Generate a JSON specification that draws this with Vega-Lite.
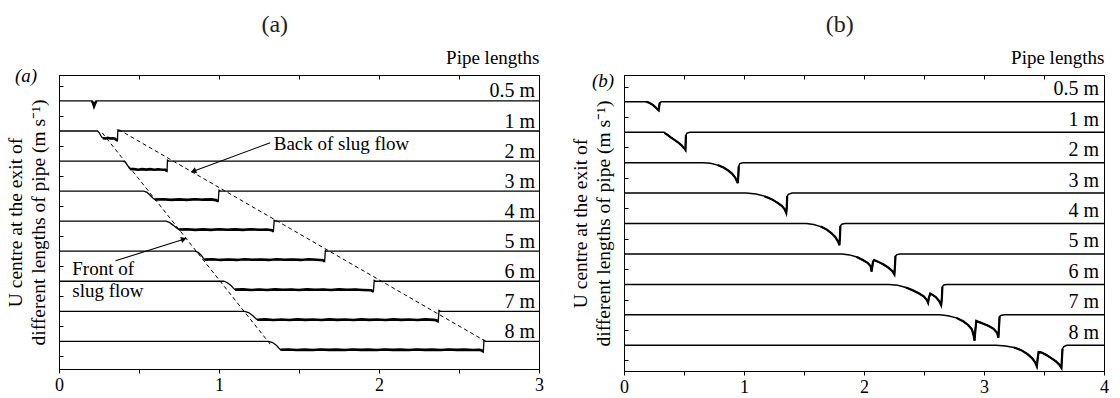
{
"$schema":"https://vega.github.io/schema/vega-lite/v6.json",
"padding":{"left":5,"top":12,"right":5,"bottom":5},
"spacing":26,
"config":{
 "font":"Liberation Serif",
 "view":{"stroke":"black","strokeWidth":1},
 "axis":{"domainColor":"black","tickColor":"black","labelColor":"black","titleColor":"black","grid":false,"labelFont":"Liberation Serif","titleFont":"Liberation Serif","titleFontWeight":"normal","domainWidth":1,"tickWidth":1},
 "title":{"font":"Liberation Serif","fontWeight":"normal","fontSize":24,"color":"#222222","anchor":"middle","frame":"bounds","offset":12},
 "text":{"font":"Liberation Serif","color":"black"}
},
"datasets":{
"a":[
{"p":"0.5 m","t":0,"u":9},{"p":"0.5 m","t":0.205,"u":9,"s":"slug"},{"p":"0.5 m","t":0.213,"u":8.93,"s":"slug"},{"p":"0.5 m","t":0.219,"u":8.83,"s":"slug"},{"p":"0.5 m","t":0.225,"u":8.91,"s":"slug"},{"p":"0.5 m","t":0.233,"u":9,"s":"slug"},{"p":"0.5 m","t":3,"u":9},
{"p":"1 m","t":0,"u":8},{"p":"1 m","t":0.24,"u":8},{"p":"1 m","t":0.25,"u":7.95},{"p":"1 m","t":0.26,"u":7.86},{"p":"1 m","t":0.268,"u":7.79},
{"p":"1 m","t":0.275,"u":7.76,"s":"slug"},{"p":"1 m","t":0.29,"u":7.75,"s":"slug"},{"p":"1 m","t":0.305,"u":7.77,"s":"slug"},{"p":"1 m","t":0.32,"u":7.75,"s":"slug"},{"p":"1 m","t":0.335,"u":7.76,"s":"slug"},{"p":"1 m","t":0.35,"u":7.74,"s":"slug"},{"p":"1 m","t":0.358,"u":7.71,"s":"slug"},{"p":"1 m","t":0.365,"u":7.68,"s":"slug"},
{"p":"1 m","t":0.368,"u":8.03},{"p":"1 m","t":0.376,"u":8},{"p":"1 m","t":3,"u":8},
{"p":"2 m","t":0,"u":7},{"p":"2 m","t":0.4,"u":7},{"p":"2 m","t":0.415,"u":6.96},{"p":"2 m","t":0.428,"u":6.86},{"p":"2 m","t":0.438,"u":6.77},
{"p":"2 m","t":0.445,"u":6.73,"s":"slug"},{"p":"2 m","t":0.47,"u":6.73,"s":"slug"},{"p":"2 m","t":0.495,"u":6.71,"s":"slug"},{"p":"2 m","t":0.52,"u":6.73,"s":"slug"},{"p":"2 m","t":0.545,"u":6.715,"s":"slug"},{"p":"2 m","t":0.57,"u":6.73,"s":"slug"},{"p":"2 m","t":0.595,"u":6.71,"s":"slug"},{"p":"2 m","t":0.62,"u":6.725,"s":"slug"},{"p":"2 m","t":0.645,"u":6.71,"s":"slug"},{"p":"2 m","t":0.665,"u":6.71,"s":"slug"},{"p":"2 m","t":0.675,"u":6.66,"s":"slug"},
{"p":"2 m","t":0.678,"u":7.03},{"p":"2 m","t":0.686,"u":7},{"p":"2 m","t":3,"u":7},
{"p":"3 m","t":0,"u":6},{"p":"3 m","t":0.53,"u":6},{"p":"3 m","t":0.55,"u":5.96},{"p":"3 m","t":0.57,"u":5.86},{"p":"3 m","t":0.588,"u":5.76},
{"p":"3 m","t":0.6,"u":5.72,"s":"slug"},{"p":"3 m","t":0.65,"u":5.73,"s":"slug"},{"p":"3 m","t":0.7,"u":5.71,"s":"slug"},{"p":"3 m","t":0.75,"u":5.725,"s":"slug"},{"p":"3 m","t":0.8,"u":5.71,"s":"slug"},{"p":"3 m","t":0.85,"u":5.73,"s":"slug"},{"p":"3 m","t":0.9,"u":5.715,"s":"slug"},{"p":"3 m","t":0.95,"u":5.725,"s":"slug"},{"p":"3 m","t":0.98,"u":5.7,"s":"slug"},{"p":"3 m","t":0.995,"u":5.66,"s":"slug"},
{"p":"3 m","t":1.0,"u":6.03},{"p":"3 m","t":1.01,"u":6},{"p":"3 m","t":3,"u":6},
{"p":"4 m","t":0,"u":5},{"p":"4 m","t":0.67,"u":5},{"p":"4 m","t":0.69,"u":4.96},{"p":"4 m","t":0.715,"u":4.86},{"p":"4 m","t":0.735,"u":4.77},
{"p":"4 m","t":0.75,"u":4.72,"s":"slug"},{"p":"4 m","t":0.8,"u":4.73,"s":"slug"},{"p":"4 m","t":0.85,"u":4.71,"s":"slug"},{"p":"4 m","t":0.9,"u":4.725,"s":"slug"},{"p":"4 m","t":0.95,"u":4.71,"s":"slug"},{"p":"4 m","t":1.0,"u":4.73,"s":"slug"},{"p":"4 m","t":1.05,"u":4.715,"s":"slug"},{"p":"4 m","t":1.1,"u":4.725,"s":"slug"},{"p":"4 m","t":1.15,"u":4.71,"s":"slug"},{"p":"4 m","t":1.2,"u":4.73,"s":"slug"},{"p":"4 m","t":1.25,"u":4.715,"s":"slug"},{"p":"4 m","t":1.3,"u":4.72,"s":"slug"},{"p":"4 m","t":1.33,"u":4.7,"s":"slug"},{"p":"4 m","t":1.34,"u":4.66,"s":"slug"},
{"p":"4 m","t":1.345,"u":5.03},{"p":"4 m","t":1.355,"u":5},{"p":"4 m","t":3,"u":5},
{"p":"5 m","t":0,"u":4},{"p":"5 m","t":0.85,"u":4},{"p":"5 m","t":0.87,"u":3.96},{"p":"5 m","t":0.89,"u":3.86},{"p":"5 m","t":0.902,"u":3.77},
{"p":"5 m","t":0.91,"u":3.72,"s":"slug"},{"p":"5 m","t":0.96,"u":3.73,"s":"slug"},{"p":"5 m","t":1.01,"u":3.71,"s":"slug"},{"p":"5 m","t":1.06,"u":3.725,"s":"slug"},{"p":"5 m","t":1.11,"u":3.71,"s":"slug"},{"p":"5 m","t":1.16,"u":3.73,"s":"slug"},{"p":"5 m","t":1.21,"u":3.715,"s":"slug"},{"p":"5 m","t":1.26,"u":3.725,"s":"slug"},{"p":"5 m","t":1.31,"u":3.71,"s":"slug"},{"p":"5 m","t":1.36,"u":3.73,"s":"slug"},{"p":"5 m","t":1.41,"u":3.715,"s":"slug"},{"p":"5 m","t":1.46,"u":3.725,"s":"slug"},{"p":"5 m","t":1.51,"u":3.71,"s":"slug"},{"p":"5 m","t":1.56,"u":3.73,"s":"slug"},{"p":"5 m","t":1.61,"u":3.715,"s":"slug"},{"p":"5 m","t":1.65,"u":3.7,"s":"slug"},{"p":"5 m","t":1.66,"u":3.66,"s":"slug"},
{"p":"5 m","t":1.665,"u":4.03},{"p":"5 m","t":1.675,"u":4},{"p":"5 m","t":3,"u":4},
{"p":"6 m","t":0,"u":3},{"p":"6 m","t":1.03,"u":3},{"p":"6 m","t":1.05,"u":2.96},{"p":"6 m","t":1.075,"u":2.86},{"p":"6 m","t":1.09,"u":2.77},
{"p":"6 m","t":1.1,"u":2.72,"s":"slug"},{"p":"6 m","t":1.15,"u":2.73,"s":"slug"},{"p":"6 m","t":1.2,"u":2.71,"s":"slug"},{"p":"6 m","t":1.25,"u":2.725,"s":"slug"},{"p":"6 m","t":1.3,"u":2.71,"s":"slug"},{"p":"6 m","t":1.35,"u":2.73,"s":"slug"},{"p":"6 m","t":1.4,"u":2.715,"s":"slug"},{"p":"6 m","t":1.45,"u":2.725,"s":"slug"},{"p":"6 m","t":1.5,"u":2.71,"s":"slug"},{"p":"6 m","t":1.55,"u":2.73,"s":"slug"},{"p":"6 m","t":1.6,"u":2.715,"s":"slug"},{"p":"6 m","t":1.65,"u":2.725,"s":"slug"},{"p":"6 m","t":1.7,"u":2.71,"s":"slug"},{"p":"6 m","t":1.75,"u":2.73,"s":"slug"},{"p":"6 m","t":1.8,"u":2.715,"s":"slug"},{"p":"6 m","t":1.85,"u":2.725,"s":"slug"},{"p":"6 m","t":1.9,"u":2.71,"s":"slug"},{"p":"6 m","t":1.95,"u":2.7,"s":"slug"},{"p":"6 m","t":1.965,"u":2.66,"s":"slug"},
{"p":"6 m","t":1.97,"u":3.03},{"p":"6 m","t":1.98,"u":3},{"p":"6 m","t":3,"u":3},
{"p":"7 m","t":0,"u":2},{"p":"7 m","t":1.16,"u":2},{"p":"7 m","t":1.185,"u":1.96},{"p":"7 m","t":1.21,"u":1.86},{"p":"7 m","t":1.228,"u":1.77},
{"p":"7 m","t":1.24,"u":1.72,"s":"slug"},{"p":"7 m","t":1.29,"u":1.73,"s":"slug"},{"p":"7 m","t":1.34,"u":1.71,"s":"slug"},{"p":"7 m","t":1.39,"u":1.725,"s":"slug"},{"p":"7 m","t":1.44,"u":1.71,"s":"slug"},{"p":"7 m","t":1.49,"u":1.73,"s":"slug"},{"p":"7 m","t":1.54,"u":1.715,"s":"slug"},{"p":"7 m","t":1.59,"u":1.725,"s":"slug"},{"p":"7 m","t":1.64,"u":1.71,"s":"slug"},{"p":"7 m","t":1.69,"u":1.73,"s":"slug"},{"p":"7 m","t":1.74,"u":1.715,"s":"slug"},{"p":"7 m","t":1.79,"u":1.725,"s":"slug"},{"p":"7 m","t":1.84,"u":1.71,"s":"slug"},{"p":"7 m","t":1.89,"u":1.73,"s":"slug"},{"p":"7 m","t":1.94,"u":1.715,"s":"slug"},{"p":"7 m","t":1.99,"u":1.725,"s":"slug"},{"p":"7 m","t":2.04,"u":1.71,"s":"slug"},{"p":"7 m","t":2.09,"u":1.73,"s":"slug"},{"p":"7 m","t":2.14,"u":1.715,"s":"slug"},{"p":"7 m","t":2.19,"u":1.725,"s":"slug"},{"p":"7 m","t":2.24,"u":1.71,"s":"slug"},{"p":"7 m","t":2.29,"u":1.73,"s":"slug"},{"p":"7 m","t":2.34,"u":1.715,"s":"slug"},{"p":"7 m","t":2.36,"u":1.7,"s":"slug"},{"p":"7 m","t":2.37,"u":1.65,"s":"slug"},
{"p":"7 m","t":2.375,"u":2.03},{"p":"7 m","t":2.385,"u":2},{"p":"7 m","t":3,"u":2},
{"p":"8 m","t":0,"u":1},{"p":"8 m","t":1.31,"u":1},{"p":"8 m","t":1.335,"u":0.96},{"p":"8 m","t":1.36,"u":0.86},{"p":"8 m","t":1.375,"u":0.77},
{"p":"8 m","t":1.385,"u":0.72,"s":"slug"},{"p":"8 m","t":1.435,"u":0.73,"s":"slug"},{"p":"8 m","t":1.485,"u":0.71,"s":"slug"},{"p":"8 m","t":1.535,"u":0.725,"s":"slug"},{"p":"8 m","t":1.585,"u":0.71,"s":"slug"},{"p":"8 m","t":1.635,"u":0.73,"s":"slug"},{"p":"8 m","t":1.685,"u":0.715,"s":"slug"},{"p":"8 m","t":1.735,"u":0.725,"s":"slug"},{"p":"8 m","t":1.785,"u":0.71,"s":"slug"},{"p":"8 m","t":1.835,"u":0.73,"s":"slug"},{"p":"8 m","t":1.885,"u":0.715,"s":"slug"},{"p":"8 m","t":1.935,"u":0.725,"s":"slug"},{"p":"8 m","t":1.985,"u":0.71,"s":"slug"},{"p":"8 m","t":2.035,"u":0.73,"s":"slug"},{"p":"8 m","t":2.085,"u":0.715,"s":"slug"},{"p":"8 m","t":2.135,"u":0.725,"s":"slug"},{"p":"8 m","t":2.185,"u":0.71,"s":"slug"},{"p":"8 m","t":2.235,"u":0.73,"s":"slug"},{"p":"8 m","t":2.285,"u":0.715,"s":"slug"},{"p":"8 m","t":2.335,"u":0.725,"s":"slug"},{"p":"8 m","t":2.385,"u":0.71,"s":"slug"},{"p":"8 m","t":2.435,"u":0.73,"s":"slug"},{"p":"8 m","t":2.485,"u":0.715,"s":"slug"},{"p":"8 m","t":2.535,"u":0.725,"s":"slug"},{"p":"8 m","t":2.585,"u":0.71,"s":"slug"},{"p":"8 m","t":2.63,"u":0.72,"s":"slug"},{"p":"8 m","t":2.645,"u":0.69,"s":"slug"},{"p":"8 m","t":2.652,"u":0.65,"s":"slug"},
{"p":"8 m","t":2.656,"u":1.04},{"p":"8 m","t":2.666,"u":1},{"p":"8 m","t":3,"u":1}
],
"b":[
{"p":"0.5 m","t":0,"u":9},{"p":"0.5 m","t":0.18,"u":9},{"p":"0.5 m","t":0.185,"u":9,"s":"slug"},{"p":"0.5 m","t":0.21,"u":8.97,"s":"slug"},{"p":"0.5 m","t":0.24,"u":8.9,"s":"slug"},{"p":"0.5 m","t":0.265,"u":8.81,"s":"slug"},{"p":"0.5 m","t":0.28,"u":8.75,"s":"slug"},{"p":"0.5 m","t":0.289,"u":8.72,"s":"slug"},{"p":"0.5 m","t":0.293,"u":8.85,"s":"slug"},{"p":"0.5 m","t":0.298,"u":8.97,"s":"slug"},{"p":"0.5 m","t":0.31,"u":9},{"p":"0.5 m","t":4,"u":9},
{"p":"1 m","t":0,"u":8},{"p":"1 m","t":0.334,"u":8},{"p":"1 m","t":0.34,"u":7.97,"s":"slug"},{"p":"1 m","t":0.36,"u":7.92,"s":"slug"},{"p":"1 m","t":0.39,"u":7.83,"s":"slug"},{"p":"1 m","t":0.42,"u":7.75,"s":"slug"},{"p":"1 m","t":0.45,"u":7.67,"s":"slug"},{"p":"1 m","t":0.48,"u":7.57,"s":"slug"},{"p":"1 m","t":0.495,"u":7.5,"s":"slug"},{"p":"1 m","t":0.505,"u":7.46,"s":"slug"},{"p":"1 m","t":0.512,"u":7.42,"s":"slug"},{"p":"1 m","t":0.516,"u":7.9,"s":"slug"},{"p":"1 m","t":0.525,"u":7.97},{"p":"1 m","t":0.55,"u":8},{"p":"1 m","t":4,"u":8},
{"p":"2 m","t":0,"u":7},{"p":"2 m","t":0.66,"u":7},{"p":"2 m","t":0.72,"u":6.98},{"p":"2 m","t":0.78,"u":6.92,"s":"slug"},{"p":"2 m","t":0.83,"u":6.84,"s":"slug"},{"p":"2 m","t":0.87,"u":6.74,"s":"slug"},{"p":"2 m","t":0.9,"u":6.64,"s":"slug"},{"p":"2 m","t":0.925,"u":6.52,"s":"slug"},{"p":"2 m","t":0.94,"u":6.4,"s":"slug"},{"p":"2 m","t":0.948,"u":6.33,"s":"slug"},{"p":"2 m","t":0.953,"u":6.6,"s":"slug"},{"p":"2 m","t":0.956,"u":6.88,"s":"slug"},{"p":"2 m","t":0.965,"u":6.97},{"p":"2 m","t":0.99,"u":7},{"p":"2 m","t":4,"u":7},
{"p":"3 m","t":0,"u":6},{"p":"3 m","t":1.02,"u":6},{"p":"3 m","t":1.1,"u":5.97},{"p":"3 m","t":1.17,"u":5.9,"s":"slug"},{"p":"3 m","t":1.23,"u":5.8,"s":"slug"},{"p":"3 m","t":1.28,"u":5.68,"s":"slug"},{"p":"3 m","t":1.315,"u":5.58,"s":"slug"},{"p":"3 m","t":1.34,"u":5.46,"s":"slug"},{"p":"3 m","t":1.352,"u":5.35,"s":"slug"},{"p":"3 m","t":1.356,"u":5.5,"s":"slug"},{"p":"3 m","t":1.36,"u":5.9,"s":"slug"},{"p":"3 m","t":1.37,"u":5.96},{"p":"3 m","t":1.4,"u":6},{"p":"3 m","t":4,"u":6},
{"p":"4 m","t":0,"u":5},{"p":"4 m","t":1.52,"u":5},{"p":"4 m","t":1.58,"u":4.97},{"p":"4 m","t":1.64,"u":4.9,"s":"slug"},{"p":"4 m","t":1.69,"u":4.8,"s":"slug"},{"p":"4 m","t":1.73,"u":4.68,"s":"slug"},{"p":"4 m","t":1.76,"u":4.56,"s":"slug"},{"p":"4 m","t":1.785,"u":4.4,"s":"slug"},{"p":"4 m","t":1.795,"u":4.29,"s":"slug"},{"p":"4 m","t":1.8,"u":4.6,"s":"slug"},{"p":"4 m","t":1.803,"u":4.92,"s":"slug"},{"p":"4 m","t":1.815,"u":4.98},{"p":"4 m","t":1.84,"u":5},{"p":"4 m","t":4,"u":5},
{"p":"5 m","t":0,"u":4},{"p":"5 m","t":1.82,"u":4},{"p":"5 m","t":1.88,"u":3.97},{"p":"5 m","t":1.94,"u":3.9,"s":"slug"},{"p":"5 m","t":1.99,"u":3.8,"s":"slug"},{"p":"5 m","t":2.03,"u":3.71,"s":"slug"},{"p":"5 m","t":2.055,"u":3.6,"s":"slug"},{"p":"5 m","t":2.063,"u":3.42,"s":"slug"},{"p":"5 m","t":2.068,"u":3.55,"s":"slug"},{"p":"5 m","t":2.075,"u":3.75,"s":"slug"},{"p":"5 m","t":2.085,"u":3.8,"s":"slug"},{"p":"5 m","t":2.12,"u":3.74,"s":"slug"},{"p":"5 m","t":2.16,"u":3.66,"s":"slug"},{"p":"5 m","t":2.2,"u":3.56,"s":"slug"},{"p":"5 m","t":2.235,"u":3.44,"s":"slug"},{"p":"5 m","t":2.253,"u":3.33,"s":"slug"},{"p":"5 m","t":2.258,"u":3.6,"s":"slug"},{"p":"5 m","t":2.262,"u":3.93,"s":"slug"},{"p":"5 m","t":2.275,"u":3.98},{"p":"5 m","t":2.3,"u":4},{"p":"5 m","t":4,"u":4},
{"p":"6 m","t":0,"u":3},{"p":"6 m","t":2.21,"u":3},{"p":"6 m","t":2.28,"u":2.97},{"p":"6 m","t":2.35,"u":2.9,"s":"slug"},{"p":"6 m","t":2.41,"u":2.8,"s":"slug"},{"p":"6 m","t":2.46,"u":2.7,"s":"slug"},{"p":"6 m","t":2.5,"u":2.6,"s":"slug"},{"p":"6 m","t":2.525,"u":2.48,"s":"slug"},{"p":"6 m","t":2.534,"u":2.4,"s":"slug"},{"p":"6 m","t":2.54,"u":2.55,"s":"slug"},{"p":"6 m","t":2.552,"u":2.7,"s":"slug"},{"p":"6 m","t":2.575,"u":2.65,"s":"slug"},{"p":"6 m","t":2.6,"u":2.58,"s":"slug"},{"p":"6 m","t":2.625,"u":2.46,"s":"slug"},{"p":"6 m","t":2.643,"u":2.32,"s":"slug"},{"p":"6 m","t":2.649,"u":2.55,"s":"slug"},{"p":"6 m","t":2.653,"u":2.92,"s":"slug"},{"p":"6 m","t":2.665,"u":2.98},{"p":"6 m","t":2.69,"u":3},{"p":"6 m","t":4,"u":3},
{"p":"7 m","t":0,"u":2},{"p":"7 m","t":2.63,"u":2},{"p":"7 m","t":2.7,"u":1.97},{"p":"7 m","t":2.77,"u":1.9,"s":"slug"},{"p":"7 m","t":2.83,"u":1.78,"s":"slug"},{"p":"7 m","t":2.87,"u":1.66,"s":"slug"},{"p":"7 m","t":2.9,"u":1.52,"s":"slug"},{"p":"7 m","t":2.915,"u":1.3,"s":"slug"},{"p":"7 m","t":2.921,"u":1.15,"s":"slug"},{"p":"7 m","t":2.928,"u":1.5,"s":"slug"},{"p":"7 m","t":2.936,"u":1.8,"s":"slug"},{"p":"7 m","t":2.96,"u":1.76,"s":"slug"},{"p":"7 m","t":3.0,"u":1.7,"s":"slug"},{"p":"7 m","t":3.04,"u":1.63,"s":"slug"},{"p":"7 m","t":3.08,"u":1.54,"s":"slug"},{"p":"7 m","t":3.11,"u":1.4,"s":"slug"},{"p":"7 m","t":3.12,"u":1.25,"s":"slug"},{"p":"7 m","t":3.125,"u":1.6,"s":"slug"},{"p":"7 m","t":3.13,"u":1.94,"s":"slug"},{"p":"7 m","t":3.14,"u":1.98},{"p":"7 m","t":3.17,"u":2},{"p":"7 m","t":4,"u":2},
{"p":"8 m","t":0,"u":1},{"p":"8 m","t":3.1,"u":1},{"p":"8 m","t":3.18,"u":0.98},{"p":"8 m","t":3.25,"u":0.93,"s":"slug"},{"p":"8 m","t":3.31,"u":0.84,"s":"slug"},{"p":"8 m","t":3.36,"u":0.72,"s":"slug"},{"p":"8 m","t":3.4,"u":0.58,"s":"slug"},{"p":"8 m","t":3.425,"u":0.45,"s":"slug"},{"p":"8 m","t":3.44,"u":0.31,"s":"slug"},{"p":"8 m","t":3.447,"u":0.55,"s":"slug"},{"p":"8 m","t":3.455,"u":0.78,"s":"slug"},{"p":"8 m","t":3.48,"u":0.76,"s":"slug"},{"p":"8 m","t":3.52,"u":0.68,"s":"slug"},{"p":"8 m","t":3.56,"u":0.58,"s":"slug"},{"p":"8 m","t":3.6,"u":0.47,"s":"slug"},{"p":"8 m","t":3.628,"u":0.36,"s":"slug"},{"p":"8 m","t":3.645,"u":0.26,"s":"slug"},{"p":"8 m","t":3.65,"u":0.6,"s":"slug"},{"p":"8 m","t":3.654,"u":0.88,"s":"slug"},{"p":"8 m","t":3.665,"u":0.96},{"p":"8 m","t":3.69,"u":1},{"p":"8 m","t":4,"u":1}
],
"labA":[{"lab":"0.5 m","t":3,"u":9},{"lab":"1 m","t":3,"u":8},{"lab":"2 m","t":3,"u":7},{"lab":"3 m","t":3,"u":6},{"lab":"4 m","t":3,"u":5},{"lab":"5 m","t":3,"u":4},{"lab":"6 m","t":3,"u":3},{"lab":"7 m","t":3,"u":2},{"lab":"8 m","t":3,"u":1}],
"labB":[{"lab":"0.5 m","t":4,"u":9},{"lab":"1 m","t":4,"u":8},{"lab":"2 m","t":4,"u":7},{"lab":"3 m","t":4,"u":6},{"lab":"4 m","t":4,"u":5},{"lab":"5 m","t":4,"u":4},{"lab":"6 m","t":4,"u":3},{"lab":"7 m","t":4,"u":2},{"lab":"8 m","t":4,"u":1}],
"dash":[{"name":"front","t":0.27,"u":7.94,"t2":1.32,"u2":0.905},{"name":"back","t":0.372,"u":8.05,"t2":2.657,"u2":1.03}],
"arrows":[{"name":"back","t":1.32,"u":7.61,"t2":0.84,"u2":6.66},{"name":"front","t":0.353,"u":3.68,"t2":0.78,"u2":4.4}],
"notes":[{"txt":"Back of slug flow","t":1.342,"u":7.57},{"txt":"Front of","t":0.083,"u":3.4},{"txt":"slug flow","t":0.083,"u":2.66}]
},
"hconcat":[
{
 "width":480,"height":294,
 "title":{"text":"(a)"},
 "resolve":{"axis":{"x":"independent","y":"independent"}},
 "layer":[
  {"data":{"name":"a"},"mark":{"type":"line","color":"black","strokeWidth":1.3},
   "encoding":{
    "x":{"field":"t","type":"quantitative","scale":{"domain":[0,3],"nice":false,"zero":false},"axis":{"orient":"bottom","title":null,"values":[0,0.5,1,1.5,2,2.5,3],"format":".0f","labelExpr":"datum.value % 1 === 0 ? datum.label : ''","tickSize":4,"labelFontSize":18,"labelPadding":3,"labelFlush":false}},
    "y":{"field":"u","type":"quantitative","scale":{"domain":[0.08,9.864],"nice":false,"zero":false},"axis":{"orient":"left","title":["U centre at the exit of","different lengths of pipe (m s⁻¹)"],"titleFontSize":19.5,"titleLineHeight":22.6,"titlePadding":10,"labels":false,"values":[0.5,1.5,2.5,3.5,4.5,5.5,6.5,7.5,8.5,9.5],"tickSize":-4}},
    "detail":{"field":"p"}}},
  {"data":{"name":"a"},"transform":[{"filter":"datum.s === 'slug'"}],"mark":{"type":"line","color":"black","strokeWidth":2.6},
   "encoding":{"x":{"field":"t","type":"quantitative","axis":null},"y":{"field":"u","type":"quantitative","axis":null},"detail":{"field":"p"}}},
  {"data":{"name":"dash"},"mark":{"type":"rule","color":"black","strokeWidth":1,"strokeDash":[4,3]},
   "encoding":{"x":{"field":"t","type":"quantitative","axis":null},"y":{"field":"u","type":"quantitative","axis":null},"x2":{"field":"t2"},"y2":{"field":"u2"}}},
  {"data":{"name":"arrows"},"mark":{"type":"rule","color":"black","strokeWidth":1.1},
   "encoding":{"x":{"field":"t","type":"quantitative","axis":null},"y":{"field":"u","type":"quantitative","axis":null},"x2":{"field":"t2"},"y2":{"field":"u2"}}},
  {"data":{"name":"arrows"},"transform":[{"filter":"datum.name === 'back'"}],"mark":{"type":"point","shape":"triangle-up","filled":true,"color":"black","opacity":1,"size":40,"angle":249.6},
   "encoding":{"x":{"field":"t2","type":"quantitative","axis":null},"y":{"field":"u2","type":"quantitative","axis":null}}},
  {"data":{"name":"arrows"},"transform":[{"filter":"datum.name === 'front'"}],"mark":{"type":"point","shape":"triangle-up","filled":true,"color":"black","opacity":1,"size":40,"angle":72.5},
   "encoding":{"x":{"field":"t2","type":"quantitative","axis":null},"y":{"field":"u2","type":"quantitative","axis":null}}},
  {"data":{"name":"notes"},"mark":{"type":"text","align":"left","baseline":"middle","fontSize":19},
   "encoding":{"x":{"field":"t","type":"quantitative","axis":null},"y":{"field":"u","type":"quantitative","axis":null},"text":{"field":"txt"}}},
  {"data":{"name":"labA"},"mark":{"type":"text","align":"right","baseline":"alphabetic","fontSize":20,"dx":-4,"dy":-3.5},
   "encoding":{
    "x":{"field":"t","type":"quantitative","axis":{"orient":"top","title":"Pipe lengths","titleAnchor":"end","titleFontSize":19,"titlePadding":7,"labels":false,"domain":false,"ticks":true,"tickSize":-4,"values":[0,0.5,1,1.5,2,2.5,3]}},
    "y":{"field":"u","type":"quantitative","axis":null},"text":{"field":"lab"}}},
  {"data":{"values":[{"tag":"(a)"}]},"mark":{"type":"text","align":"left","baseline":"middle","fontSize":19,"fontStyle":"italic","dx":-44,"dy":1},
   "encoding":{"x":{"datum":0,"type":"quantitative","axis":null},"y":{"datum":9.864,"type":"quantitative","axis":null},"text":{"field":"tag"}}}
 ]
},
{
 "width":480,"height":296,
 "title":{"text":"(b)"},
 "resolve":{"axis":{"x":"independent","y":"independent"}},
 "layer":[
  {"data":{"name":"b"},"mark":{"type":"line","color":"black","strokeWidth":1.5},
   "encoding":{
    "x":{"field":"t","type":"quantitative","scale":{"domain":[0,4],"nice":false,"zero":false},"axis":{"orient":"bottom","title":null,"values":[0,0.5,1,1.5,2,2.5,3,3.5,4],"format":".0f","labelExpr":"datum.value % 1 === 0 ? datum.label : ''","tickSize":4,"labelFontSize":18,"labelPadding":3,"labelFlush":false}},
    "y":{"field":"u","type":"quantitative","scale":{"domain":[0.155,9.88],"nice":false,"zero":false},"axis":{"orient":"left","title":["U centre at the exit of","different lengths of pipe (m s⁻¹)"],"titleFontSize":19.5,"titleLineHeight":22.6,"titlePadding":10,"labels":false,"values":[0.5,1.5,2.5,3.5,4.5,5.5,6.5,7.5,8.5,9.5],"tickSize":-4}},
    "detail":{"field":"p"}}},
  {"data":{"name":"b"},"transform":[{"filter":"datum.s === 'slug'"}],"mark":{"type":"line","color":"black","strokeWidth":2.2},
   "encoding":{"x":{"field":"t","type":"quantitative","axis":null},"y":{"field":"u","type":"quantitative","axis":null},"detail":{"field":"p"}}},
  {"data":{"name":"labB"},"mark":{"type":"text","align":"right","baseline":"alphabetic","fontSize":20,"dx":-5,"dy":-6.5},
   "encoding":{
    "x":{"field":"t","type":"quantitative","axis":{"orient":"top","title":"Pipe lengths","titleAnchor":"end","titleFontSize":19,"titlePadding":7,"labels":false,"domain":false,"ticks":true,"tickSize":-4,"values":[0,0.5,1,1.5,2,2.5,3,3.5,4]}},
    "y":{"field":"u","type":"quantitative","axis":null},"text":{"field":"lab"}}},
  {"data":{"values":[{"tag":"(b)"}]},"mark":{"type":"text","align":"left","baseline":"middle","fontSize":19,"fontStyle":"italic","dx":-32,"dy":6},
   "encoding":{"x":{"datum":0,"type":"quantitative","axis":null},"y":{"datum":9.88,"type":"quantitative","axis":null},"text":{"field":"tag"}}}
 ]
}
]
}
